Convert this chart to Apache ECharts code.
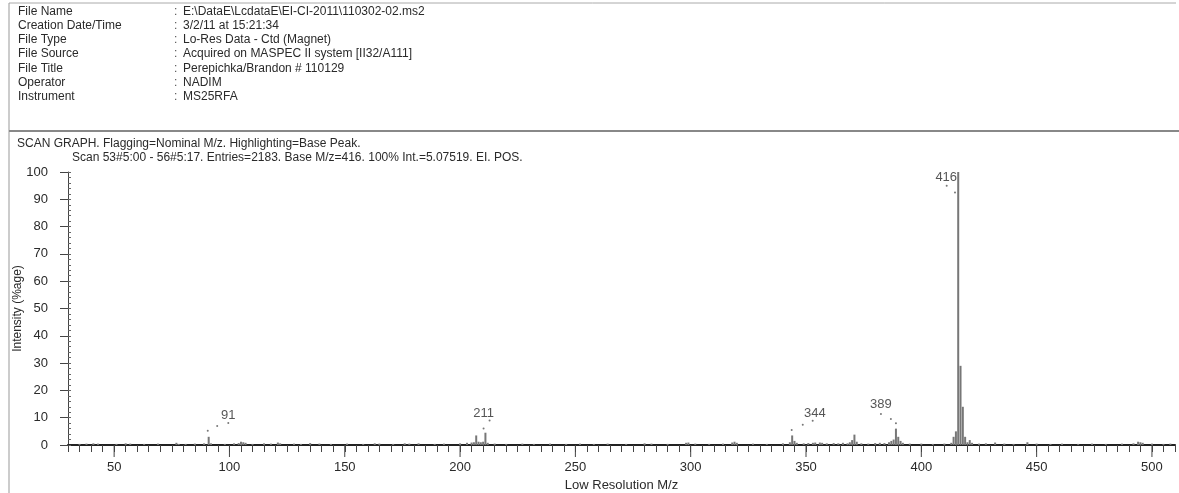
<!DOCTYPE html>
<html><head><meta charset="utf-8">
<script src="https://cdn.jsdelivr.net/npm/echarts@6/dist/echarts.min.js"></script>
<style>html,body{margin:0;padding:0;background:#fff}#c{width:1179px;height:493px}</style>
</head><body><div id="c"></div>
<script>
// ---- header info ----
const headerLabels = ['File Name','Creation Date/Time','File Type','File Source','File Title','Operator','Instrument'];
const headerValues = ['E:\\DataE\\LcdataE\\EI-CI-2011\\110302-02.ms2','3/2/11 at 15:21:34','Lo-Res Data - Ctd (Magnet)','Acquired on MASPEC II system [II32/A111]','Perepichka/Brandon # 110129','NADIM','MS25RFA'];
const graphTitle = 'SCAN GRAPH. Flagging=Nominal M/z. Highlighting=Base Peak.';
const scanLine = 'Scan 53#5:00 - 56#5:17. Entries=2183. Base M/z=416. 100% Int.=5.07519. EI. POS.';

// ---- spectrum (m/z, intensity %) ----
const mzValues = [35,38,41,43,51,55,57,63,69,77,78,81,85,89,91,92,98,102,104,105,106,107,110,115,118,121,122,128,131,135,139,144,151,158,163,165,171,176,178,182,189,193,200,203,205,206,207,208,209,210,211,212,215,220,227,232,239,246,252,258,264,272,280,283,290,298,299,302,308,314,318,319,320,327,333,340,343,344,345,346,349,351,353,354,356,357,359,362,364,366,368,369,370,371,372,374,377,380,382,384,386,387,388,389,390,391,392,395,400,405,410,413,414,415,416,417,418,419,420,421,422,425,428,432,436,440,446,450,456,461,468,474,480,487,492,494,495,496,500,505,508];
const intensities = [0.4,0.5,0.6,0.5,0.4,0.6,0.5,0.4,0.5,0.8,0.4,0.4,0.5,0.6,3.0,0.6,0.4,0.6,0.7,1.2,1.0,0.8,0.4,0.6,0.5,0.9,0.6,0.5,0.4,0.7,0.5,0.4,0.5,0.4,0.6,0.5,0.4,0.6,0.5,0.6,0.4,0.5,0.6,0.8,0.9,1.0,3.5,1.2,1.0,1.2,4.5,0.8,0.5,0.4,0.5,0.4,0.5,0.4,0.5,0.4,0.5,0.4,0.6,0.5,0.4,0.8,0.9,0.5,0.4,0.5,0.9,1.2,0.8,0.5,0.4,0.6,1.0,3.5,1.5,0.8,0.6,0.7,0.8,0.9,0.9,0.8,0.6,0.7,0.6,0.8,0.6,1.0,1.8,3.8,1.2,0.6,0.5,0.7,0.8,0.7,1.0,1.5,2.0,6.0,3.0,1.5,0.8,0.5,0.5,0.4,0.5,0.8,3.0,5.0,100,29,14,3.0,1.0,1.8,0.8,0.5,0.6,0.9,0.5,0.4,1.0,0.5,0.4,0.5,0.4,0.5,0.4,0.5,0.6,1.2,1.0,0.8,0.5,0.4,0.5];

// ---- flags (label text, label position, leader dots) ----
const flagTexts = ['91','211','344','389','416'];
const flagLabelX = [99.5,210.2,353.8,382.5,410.8];
const flagLabelY = [11.0,11.4,11.4,14.8,98.0];
const flagDotX = [90.6,94.7,99.5, 210.2,212.8, 343.8,348.6,352.9, 382.5,386.8,389.0, 411.0,414.6];
const flagDotY = [5.2,7.0,8.1, 6.0,9.0, 5.5,7.4,8.9, 11.4,9.5,8.0, 95.0,92.5];

// ---- axes ----
const xMin = 30, xMax = 510, xMinorStep = 5, xMajorStep = 50;
const yMin = 0, yMax = 100, yStep = 10, yMinorStep = 2;
const majorTickValues = [50,100,150,200,250,300,350,400,450,500];

const chart = echarts.init(document.getElementById('c'), null, {renderer:'canvas'});
const FONT = '"Liberation Sans", Arial, Helvetica, sans-serif';
const txtColor = '#2a2a2a';

const graphics = [];
// frame lines
graphics.push({type:'line', shape:{x1:9,y1:3,x2:1176,y2:3}, style:{stroke:'#aaa',lineWidth:1}});
graphics.push({type:'line', shape:{x1:9,y1:3,x2:9,y2:493}, style:{stroke:'#999',lineWidth:1}});
graphics.push({type:'line', shape:{x1:9,y1:131,x2:1179,y2:131}, style:{stroke:'#888',lineWidth:2}});
headerLabels.forEach((t,i)=>{
  const y = 12.5 + i*14.2;
  graphics.push({type:'text', left:18, top:y-7, style:{text:t, font:'12px '+FONT, fill:txtColor}});
  graphics.push({type:'text', left:174, top:y-7, style:{text:':', font:'12px '+FONT, fill:'#555'}});
  graphics.push({type:'text', left:183, top:y-7, style:{text:headerValues[i], font:'12px '+FONT, fill:txtColor}});
});
graphics.push({type:'text', left:17, top:138, style:{text:graphTitle, font:'12px '+FONT, fill:txtColor}});
graphics.push({type:'text', left:72, top:152, style:{text:scanLine, font:'12px '+FONT, fill:txtColor}});

chart.setOption({
  animation:false,
  backgroundColor:'#fff',
  graphic: graphics,
  grid:{left:68, right:4, top:172, bottom:48, containLabel:false, outerBoundsMode:'none'},
  xAxis:[{
    type:'value', min:xMin, max:xMax, interval:xMinorStep,
    name:'Low Resolution M/z', nameLocation:'middle', nameGap:34, nameMoveOverlap:false,
    nameTextStyle:{fontFamily:FONT, fontSize:13, color:txtColor},
    axisLine:{show:true, lineStyle:{color:'#222', width:2}},
    axisTick:{show:true, length:7, lineStyle:{color:'#444', width:1}},
    axisLabel:{fontFamily:FONT, fontSize:13, color:txtColor, margin:16,
      formatter:v=> (v % xMajorStep === 0 ? String(v) : '')},
    splitLine:{show:false}
  }],
  yAxis:[{
    type:'value', min:yMin, max:yMax, interval:yStep,
    name:'Intensity (%age)', nameLocation:'middle', nameGap:44, nameRotate:90, nameMoveOverlap:false,
    nameTextStyle:{fontFamily:FONT, fontSize:12, color:txtColor},
    axisLine:{show:true, lineStyle:{color:'#444', width:1}},
    axisTick:{show:true, length:8, lineStyle:{color:'#444'}},
    axisLabel:{fontFamily:FONT, fontSize:13, color:txtColor, margin:20},
    splitLine:{show:false}
  },{
    type:'value', min:yMin, max:yMax, interval:yMinorStep, position:'left',
    axisLine:{show:false}, axisTick:{show:true, inside:true, length:3, lineStyle:{color:'#666'}},
    axisLabel:{show:false}, splitLine:{show:false}
  }],
  series:[
    {type:'bar', xAxisIndex:0, yAxisIndex:0, barWidth:2, itemStyle:{color:'#777'},
     data: mzValues.map((m,i)=>[m,intensities[i]]), z:3},
    {type:'custom', xAxisIndex:0, yAxisIndex:0, clip:false, silent:true,
     data: majorTickValues.map(v=>[v,0]),
     renderItem:(params,api)=>{
       const p = api.coord([api.value(0),0]);
       return {type:'line', shape:{x1:p[0],y1:p[1],x2:p[0],y2:p[1]+12}, style:{stroke:'#444',lineWidth:1}};
     }},
    {type:'scatter', symbol:'circle', symbolSize:2, itemStyle:{color:'#555'},
     data: flagDotX.map((x,i)=>[x,flagDotY[i]]), z:4},
    {type:'scatter', symbolSize:0, silent:true,
     data: flagLabelX.map((x,i)=>({value:[x,flagLabelY[i]], name:flagTexts[i]})),
     label:{show:true, position:'inside', formatter:p=>p.name, fontFamily:FONT, fontSize:13, color:txtColor}}
  ]
});
</script></body></html>
